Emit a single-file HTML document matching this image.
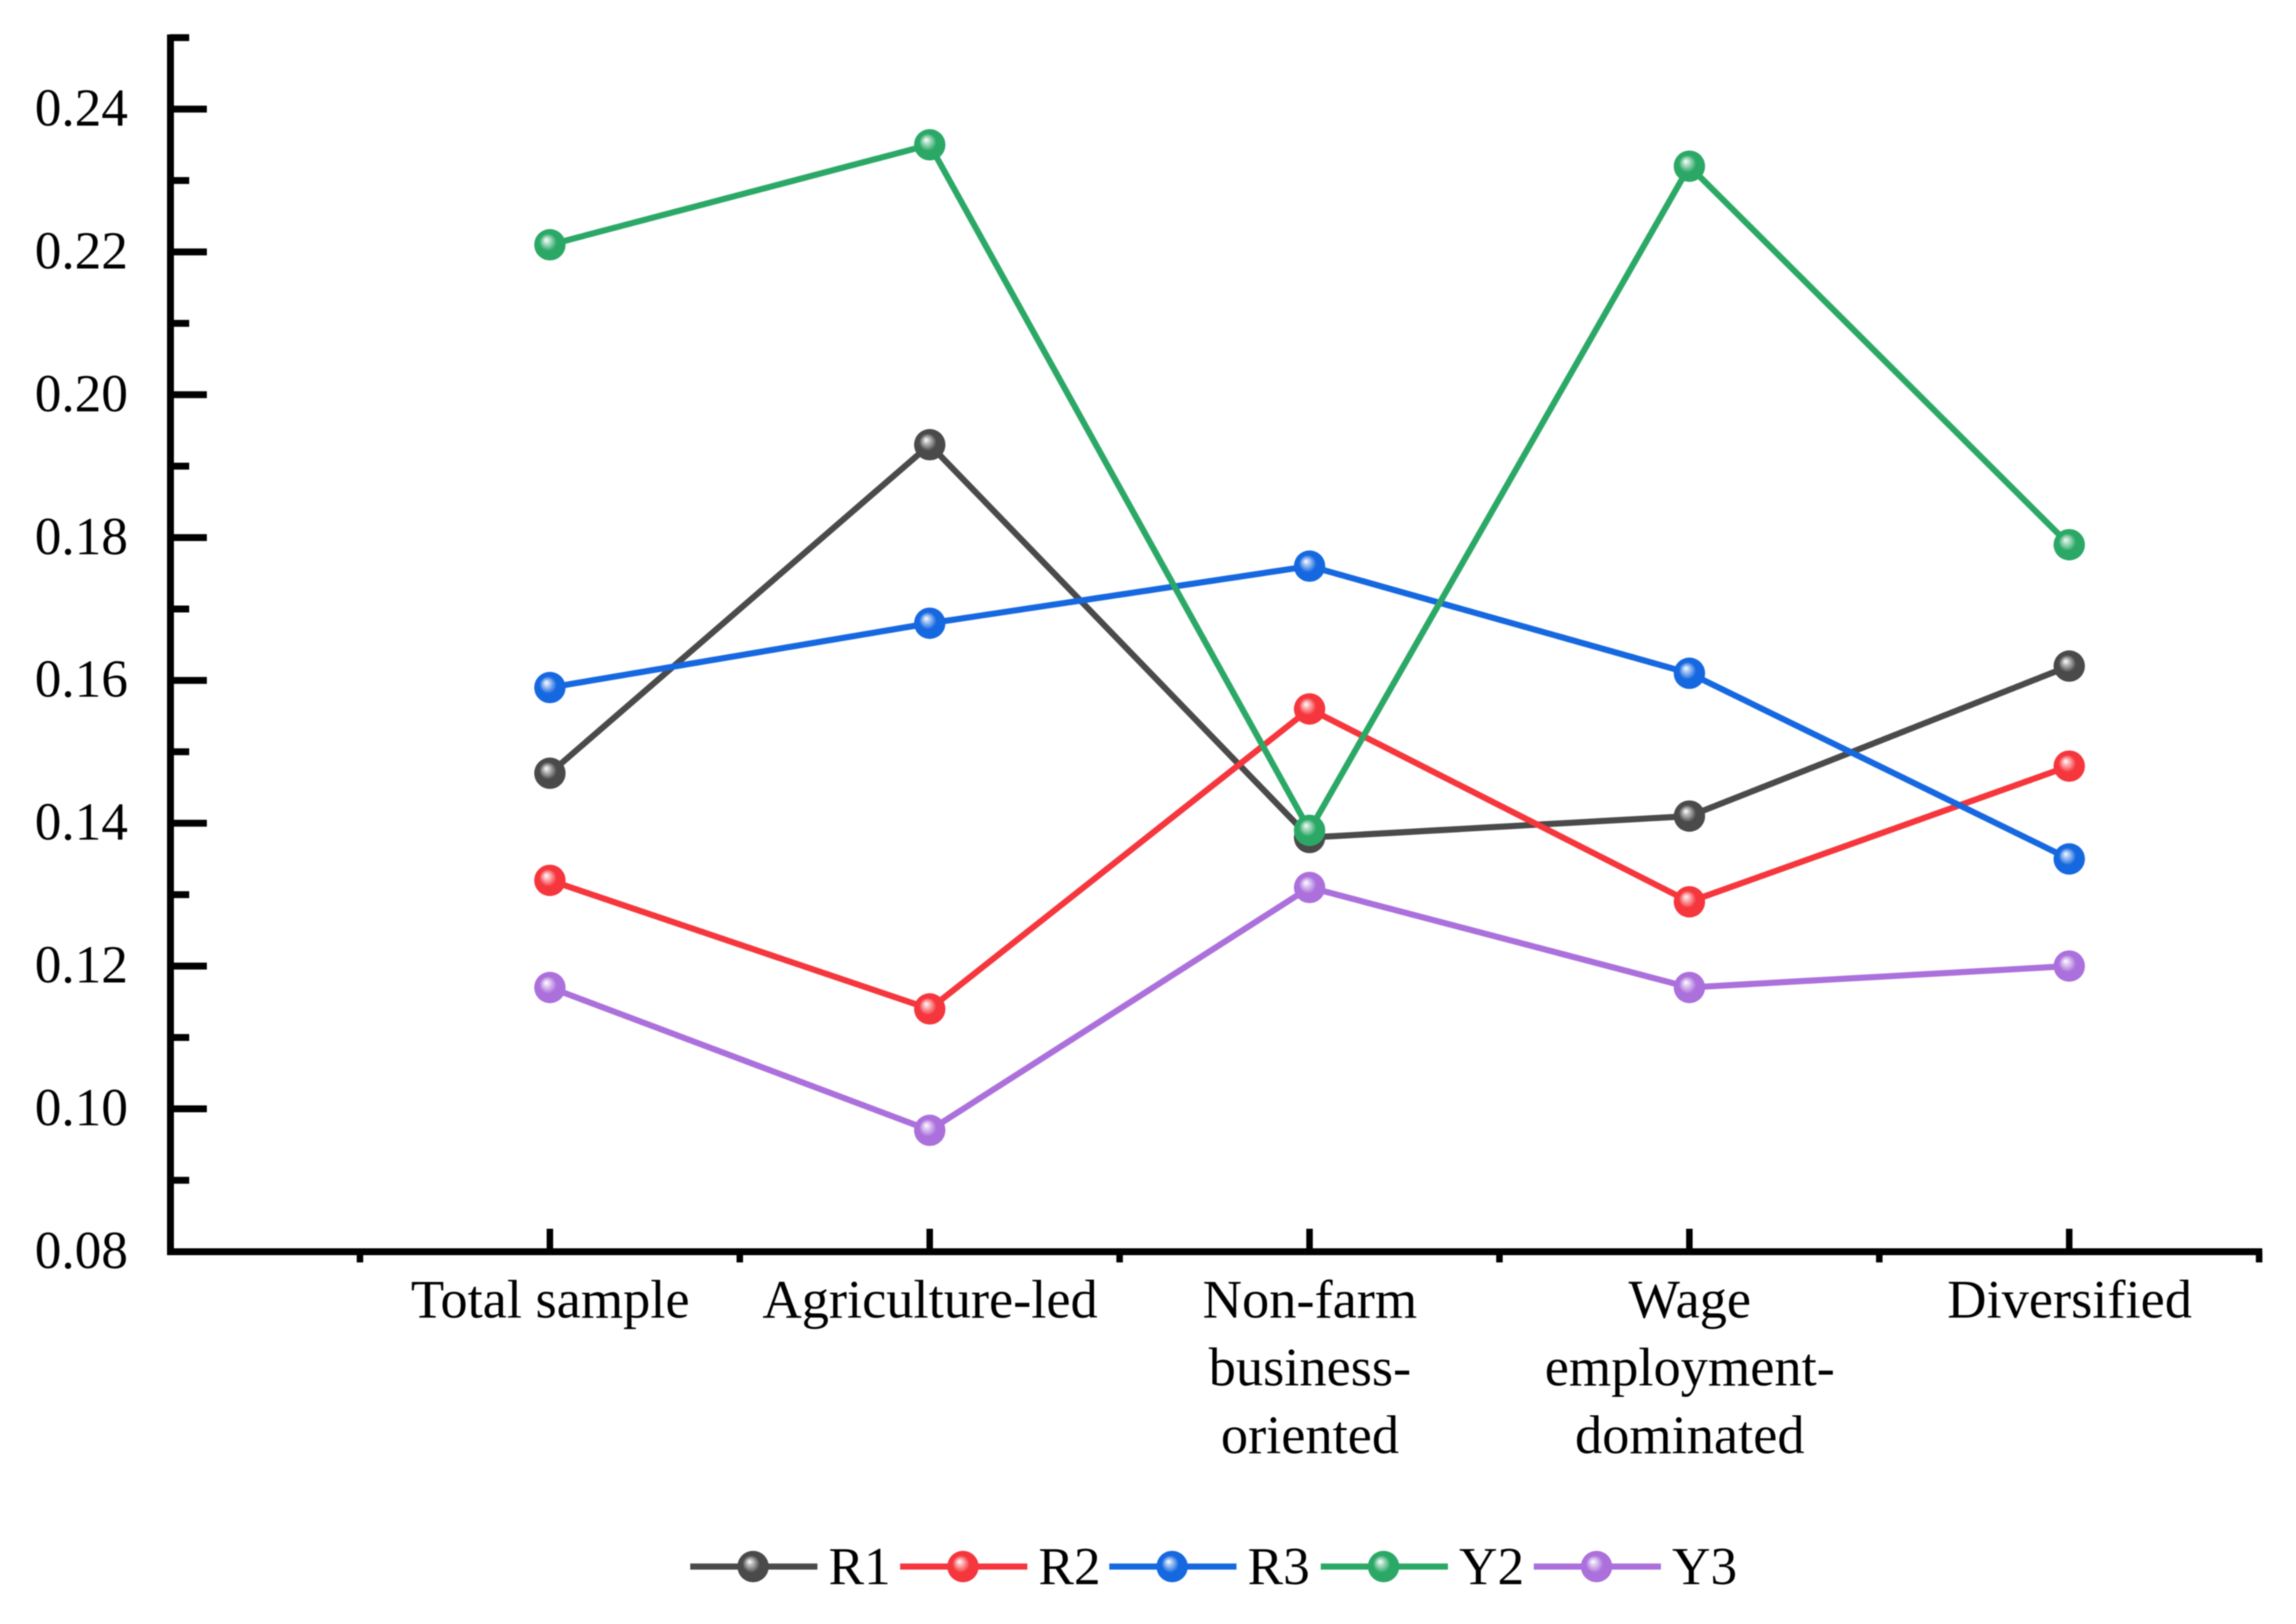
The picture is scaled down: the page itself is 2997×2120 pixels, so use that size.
<!DOCTYPE html>
<html lang="en">
<head>
<meta charset="utf-8">
<title>Line chart of R1, R2, R3, Y2 and Y3 by livelihood type</title>
<style>
html,body{margin:0;padding:0;background:#fff;}
body{width:2997px;height:2120px;overflow:hidden;}
svg{display:block;filter:blur(0.8px);}
text{font-family:"Liberation Serif",serif;fill:#000;font-size:69.5px;}
text.xl{font-size:71px;}
</style>
</head>
<body>
<svg id="chart" xmlns="http://www.w3.org/2000/svg" width="2997" height="2120" viewBox="0 0 2997 2120">
<rect x="0" y="0" width="2997" height="2120" fill="#fff"/>
<defs id="defs"></defs>
<g id="axes"></g>
<g id="series"></g>
<g id="legend"></g>
</svg>
<script>
const categories = [["Total sample"], ["Agriculture-led"], ["Non-farm", "business-", "oriented"], ["Wage", "employment-", "dominated"], ["Diversified"]];
const yTicks = [0.08, 0.10, 0.12, 0.14, 0.16, 0.18, 0.20, 0.22, 0.24];
const yMinorTicks = [0.09, 0.11, 0.13, 0.15, 0.17, 0.19, 0.21, 0.23, 0.25];
const yTickLabels = ["0.08", "0.10", "0.12", "0.14", "0.16", "0.18", "0.20", "0.22", "0.24"];
const seriesNames = ["R1", "R2", "R3", "Y2", "Y3"];
const seriesColors = ["#4a4a4a", "#f5363c", "#1668e0", "#2ba866", "#ab70dc"];
const r1Values = [0.147, 0.193, 0.138, 0.141, 0.162];
const r2Values = [0.132, 0.114, 0.156, 0.129, 0.148];
const r3Values = [0.159, 0.168, 0.176, 0.161, 0.135];
const y2Values = [0.221, 0.235, 0.139, 0.232, 0.179];
const y3Values = [0.117, 0.097, 0.131, 0.117, 0.120];
const seriesValues = [r1Values, r2Values, r3Values, y2Values, y3Values];

const NS = "http://www.w3.org/2000/svg";
const xOrigin = 222, xStep = 495.8;
const yBase = 1634, yPerUnit = 186.45 / 0.02;
function xScale(position) { return xOrigin + xStep * position; }
function yScale(value) { return yBase - (value - 0.08) * yPerUnit; }

function make(tag, attrs, parent) {
  const el = document.createElementNS(NS, tag);
  for (const key in attrs) el.setAttribute(key, attrs[key]);
  parent.appendChild(el);
  return el;
}

const defs = document.getElementById("defs");
const axes = document.getElementById("axes");
const seriesGroup = document.getElementById("series");
const legend = document.getElementById("legend");

seriesColors.forEach(function (color, s) {
  const grad = make("radialGradient", { id: "ball" + s, cx: "0.5", cy: "0.5", r: "0.55", fx: "0.38", fy: "0.34" }, defs);
  make("stop", { offset: "0", "stop-color": "#ffffff", "stop-opacity": "0.95" }, grad);
  make("stop", { offset: "0.5", "stop-color": color }, grad);
  make("stop", { offset: "1", "stop-color": color }, grad);
});

// Y axis line
const yAxisLine = make("line", { x1: 222.5, x2: 222.5, y1: 45, y2: 1638.5, stroke: "#000", "stroke-width": 9 }, axes);



// X axis line
const xAxisLine = make("line", { x1: 218, x2: 2953, y1: 1634, y2: 1634, stroke: "#000", "stroke-width": 9 }, axes);



yTicks.forEach(function (value, i) {
  const py = yScale(value);
  if (i > 0) {
    const tick = make("line", { x1: 222, x2: 270, y1: py, y2: py, stroke: "#000", "stroke-width": 9 }, axes);
    
    
  }
  const label = make("text", { x: 167, y: py + 21.5, "text-anchor": "end" }, axes);
  label.textContent = yTickLabels[i];
  
  
});

yMinorTicks.forEach(function (value) {
  const py = yScale(value);
  const tick = make("line", { x1: 222, x2: 247, y1: py, y2: py, stroke: "#000", "stroke-width": 9 }, axes);
  
  
});

categories.forEach(function (lines, i) {
  const px = xScale(i + 1);
  const major = make("line", { x1: px, x2: px, y1: 1604, y2: 1634, stroke: "#000", "stroke-width": 8.5 }, axes);
  
  
  const minorX = xScale(i + 0.5);
  const minor = make("line", { x1: minorX, x2: minorX, y1: 1634, y2: 1648, stroke: "#000", "stroke-width": 8.5 }, axes);
  
  
  lines.forEach(function (line, k) {
    const label = make("text", { x: px + 0.5, y: 1720 + k * 88.5, "text-anchor": "middle", "class": "xl" }, axes);
    label.textContent = line;
    
    
  });
});
const lastMinorX = xScale(categories.length + 0.5);
const lastMinor = make("line", { x1: lastMinorX, x2: lastMinorX, y1: 1634, y2: 1648, stroke: "#000", "stroke-width": 8.5 }, axes);



seriesNames.forEach(function (name, s) {
  const group = make("g", {}, seriesGroup);
  
  
  const values = seriesValues[s];
  const pts = values.map(function (v, i) { return xScale(i + 1) + "," + yScale(v); }).join(" ");
  const path = make("polyline", { points: pts, fill: "none", stroke: seriesColors[s], "stroke-width": 8, "stroke-linejoin": "round" }, group);
  
  
  values.forEach(function (v, i) {
    const dot = make("circle", { cx: xScale(i + 1), cy: yScale(v), r: 20.5, fill: "url(#ball" + s + ")" }, group);
    
    
  });
});

const legendLineStart = [901, 1175, 1448, 1724, 2002];
seriesNames.forEach(function (name, s) {
  const x0 = legendLineStart[s];
  const entry = make("g", {}, legend);
  
  
  const swatch = make("line", { x1: x0, x2: x0 + 166, y1: 2045, y2: 2045, stroke: seriesColors[s], "stroke-width": 8 }, entry);
  
  
  const ball = make("circle", { cx: x0 + 82, cy: 2045, r: 20.5, fill: "url(#ball" + s + ")" }, entry);
  
  
  const label = make("text", { x: x0 + 180.5, y: 2068 }, entry);
  label.textContent = name;
  
  
});
</script>
</body>
</html>
